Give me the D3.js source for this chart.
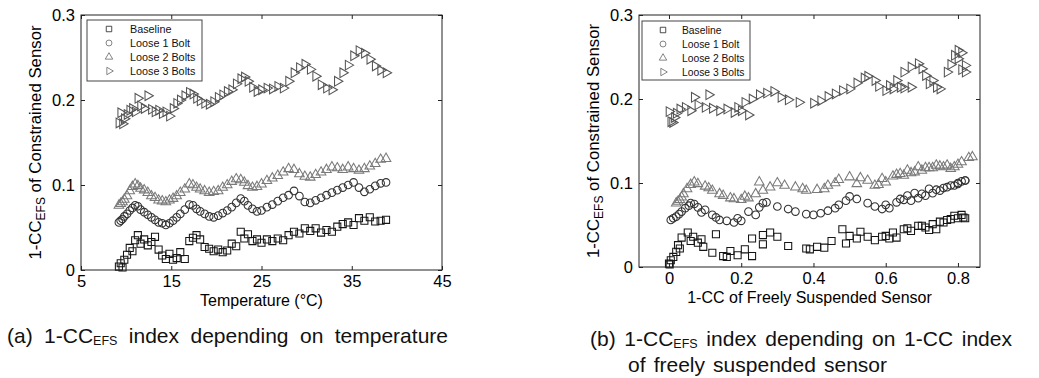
<!DOCTYPE html>
<html>
<head>
<meta charset="utf-8">
<script src="https://cdn.jsdelivr.net/npm/d3@7"></script>
<style>
  body { margin: 0; background: #fff; }
  svg { display: block; font-family: Arial, "Liberation Sans", sans-serif; }
</style>
</head>
<body>
<svg id="chart" width="1039" height="378"></svg>
<script>
// measurement temperatures (°C), shared by all four cases
const temperature = [9.2, 9.4, 9.6, 9.8, 10.1, 10.4, 10.7, 11.0, 11.3, 11.6, 12.0, 12.4, 12.8, 13.2, 13.6, 14.0,
  14.4, 14.8, 15.2, 15.6, 16.0, 16.5, 17.0, 17.4, 17.8, 18.2, 18.7, 19.2, 19.7, 20.2, 20.7, 21.2, 21.7, 22.2,
  22.7, 23.1, 23.5, 24.0, 24.5, 25.0, 25.6, 26.2, 26.8, 27.4, 28.0, 28.6, 29.2, 29.8, 30.4, 31.0, 31.6, 32.2,
  32.8, 33.4, 34.0, 34.6, 35.2, 35.8, 36.4, 37.0, 37.6, 38.2, 38.8];

// 1-CC_EFS of the constrained sensor
const baselineY = [0.004, 0.008, 0.003, 0.012, 0.018, 0.026, 0.022, 0.035, 0.041, 0.031,
  0.036, 0.029, 0.033, 0.039, 0.024, 0.017, 0.013, 0.019, 0.012, 0.014,
  0.021, 0.013, 0.034, 0.038, 0.041, 0.036, 0.027, 0.025, 0.022, 0.024,
  0.021, 0.023, 0.031, 0.028, 0.045, 0.037, 0.042, 0.034, 0.036, 0.032,
  0.036, 0.034, 0.037, 0.035, 0.041, 0.045, 0.043, 0.049, 0.046, 0.049,
  0.044, 0.047, 0.045, 0.051, 0.054, 0.056, 0.053, 0.061, 0.058, 0.062,
  0.057, 0.058, 0.059];
const loose1Y = [0.056, 0.058, 0.060, 0.063, 0.066, 0.070, 0.073, 0.076, 0.075, 0.071,
  0.068, 0.065, 0.062, 0.059, 0.056, 0.055, 0.053, 0.055, 0.058, 0.062,
  0.066, 0.071, 0.077, 0.076, 0.072, 0.069, 0.066, 0.063, 0.062, 0.064,
  0.067, 0.070, 0.074, 0.079, 0.084, 0.081, 0.076, 0.072, 0.069, 0.070,
  0.074, 0.077, 0.081, 0.085, 0.088, 0.093, 0.087, 0.080, 0.079, 0.082,
  0.085, 0.088, 0.091, 0.094, 0.097, 0.100, 0.103, 0.097, 0.092, 0.095,
  0.099, 0.102, 0.103];
const loose2Y = [0.076, 0.078, 0.080, 0.083, 0.087, 0.093, 0.098, 0.101, 0.099, 0.096,
  0.094, 0.091, 0.087, 0.085, 0.082, 0.081, 0.080, 0.082, 0.084, 0.087,
  0.091, 0.095, 0.101, 0.100, 0.097, 0.095, 0.093, 0.091, 0.092, 0.093,
  0.097, 0.100, 0.104, 0.107, 0.106, 0.103, 0.099, 0.097, 0.098, 0.101,
  0.105, 0.108, 0.111, 0.115, 0.119, 0.118, 0.113, 0.110, 0.109, 0.112,
  0.115, 0.118, 0.121, 0.120, 0.118, 0.121, 0.119, 0.117, 0.119, 0.122,
  0.125, 0.130, 0.131];
const loose3Y = [0.173, 0.185, 0.172, 0.178, 0.183, 0.188, 0.190, 0.186, 0.202, 0.193,
  0.190, 0.205, 0.189, 0.186, 0.188, 0.184, 0.186, 0.181, 0.190, 0.196,
  0.200, 0.205, 0.209, 0.207, 0.202, 0.199, 0.196, 0.195, 0.198, 0.203,
  0.206, 0.210, 0.212, 0.219, 0.225, 0.227, 0.222, 0.215, 0.210, 0.212,
  0.214, 0.213, 0.216, 0.214, 0.222, 0.232, 0.238, 0.242, 0.236, 0.228,
  0.218, 0.214, 0.212, 0.222, 0.232, 0.241, 0.252, 0.258, 0.255, 0.248,
  0.240, 0.235, 0.232];

// 1-CC of the freely suspended sensor for the same records
const baselineFree = [0.0, 0.005, 0.002, 0.012, 0.02, 0.025, 0.03, 0.035, 0.052, 0.06,
  0.067, 0.08, 0.09, 0.13, 0.095, 0.12, 0.15, 0.17, 0.16, 0.19,
  0.21, 0.23, 0.23, 0.26, 0.28, 0.3, 0.26, 0.33, 0.38, 0.41,
  0.39, 0.43, 0.45, 0.49, 0.48, 0.5, 0.53, 0.52, 0.55, 0.57,
  0.59, 0.61, 0.6, 0.63, 0.62, 0.65, 0.67, 0.69, 0.66, 0.7,
  0.72, 0.71, 0.74, 0.73, 0.75, 0.77, 0.76, 0.79, 0.8, 0.81,
  0.78, 0.82, 0.815];
const loose1Free = [0.005, 0.012, 0.02, 0.028, 0.035, 0.045, 0.055, 0.06, 0.07, 0.08,
  0.1, 0.09, 0.12, 0.13, 0.14, 0.16, 0.18, 0.2, 0.19, 0.24,
  0.22, 0.25, 0.27, 0.26, 0.3, 0.33, 0.35, 0.38, 0.4, 0.42,
  0.44, 0.46, 0.47, 0.49, 0.5, 0.52, 0.55, 0.57, 0.59, 0.61,
  0.6, 0.63, 0.64, 0.66, 0.68, 0.72, 0.7, 0.65, 0.67, 0.69,
  0.71, 0.73, 0.75, 0.76, 0.78, 0.8, 0.82, 0.79, 0.74, 0.77,
  0.8, 0.81, 0.82];
const loose2Free = [0.02, 0.025, 0.03, 0.035, 0.04, 0.05, 0.06, 0.07, 0.08, 0.1,
  0.11, 0.12, 0.14, 0.15, 0.17, 0.18, 0.2, 0.22, 0.21, 0.24,
  0.26, 0.28, 0.25, 0.3, 0.32, 0.35, 0.37, 0.38, 0.41, 0.43,
  0.44, 0.46, 0.47, 0.5, 0.53, 0.55, 0.52, 0.57, 0.58, 0.6,
  0.59, 0.62, 0.64, 0.66, 0.69, 0.71, 0.68, 0.63, 0.65, 0.67,
  0.7, 0.72, 0.74, 0.75, 0.73, 0.77, 0.76, 0.78, 0.79, 0.8,
  0.81, 0.83, 0.84];
const loose3Free = [0.005, 0.0, 0.01, 0.015, 0.02, 0.03, 0.045, 0.06, 0.07, 0.08,
  0.1, 0.11, 0.12, 0.14, 0.16, 0.18, 0.2, 0.22, 0.19, 0.21,
  0.23, 0.25, 0.29, 0.27, 0.31, 0.33, 0.36, 0.4, 0.42, 0.44,
  0.46, 0.48, 0.5, 0.52, 0.54, 0.55, 0.57, 0.58, 0.6, 0.62,
  0.64, 0.65, 0.61, 0.67, 0.63, 0.65, 0.67, 0.69, 0.7, 0.71,
  0.72, 0.74, 0.75, 0.73, 0.77, 0.78, 0.79, 0.8, 0.81, 0.8,
  0.82, 0.81, 0.82];

const seriesNames = ['Baseline', 'Loose 1 Bolt', 'Loose 2 Bolts', 'Loose 3 Bolts'];
const seriesY = [baselineY, loose1Y, loose2Y, loose3Y];
const tempTicks = [5, 15, 25, 35, 45];
const freeTicks = [0, 0.2, 0.4, 0.6, 0.8];
const yTicks = [0, 0.1, 0.2, 0.3];

const colors = ['#151515', '#333', '#7a7a7a', '#555'];
const shapes = [d3.symbolSquare, d3.symbolCircle, d3.symbolTriangle, d3.symbolTriangle];
const sizes = [50, 46, 40, 40];
const rotations = [0, 0, 0, 90];

const svg = d3.select('#chart');
svg.append('rect').attr('width', 1039).attr('height', 378).attr('fill', '#fff');

const fmt1 = d => d === 0 ? '0' : d.toFixed(1);

const panels = [
  { left: 81, right: 442, top: 15, bottom: 270, xDomain: [5, 45], xTicks: tempTicks, xFmt: d3.format('d'),
    xs: [temperature, temperature, temperature, temperature], xLabel: 'Temperature (°C)',
    legend: { x: 87, y: 20, w: 115, h: 61, symX: 22, textX: 43, fs: 10.8 } },
  { left: 639, right: 980, top: 15, bottom: 267, xDomain: [-0.083, 0.861], xTicks: freeTicks, xFmt: fmt1,
    xs: [baselineFree, loose1Free, loose2Free, loose3Free], xLabel: '1-CC of Freely Suspended Sensor',
    legend: { x: 642, y: 21, w: 108, h: 59, symX: 21, textX: 40, fs: 10.3 } }
];

panels.forEach(p => {
  const x = d3.scaleLinear().domain(p.xDomain).range([p.left, p.right]);
  const y = d3.scaleLinear().domain([0, 0.3]).range([p.bottom, p.top]);
  const g = svg.append('g');

  // markers
  seriesY.forEach((ys, s) => {
    const sym = d3.symbol().type(shapes[s]).size(sizes[s]);
    g.append('g').selectAll('path')
      .data(ys.map((v, i) => [p.xs[s][i], v]))
      .join('path')
      .attr('d', sym)
      .attr('transform', d => `translate(${x(d[0])},${y(d[1])}) rotate(${rotations[s]})`)
      .attr('fill', 'none')
      .attr('stroke', colors[s])
      .attr('stroke-width', 1.05);
  });

  // axes with inward ticks on all sides
  const bottomAxis = g.append('g').attr('transform', `translate(0,${p.bottom})`)
    .call(d3.axisBottom(x).tickValues(p.xTicks).tickFormat(p.xFmt).tickSizeInner(-4).tickSizeOuter(0).tickPadding(5.5));
  const leftAxis = g.append('g').attr('transform', `translate(${p.left},0)`)
    .call(d3.axisLeft(y).tickValues(yTicks).tickFormat(fmt1).tickSizeInner(-4).tickSizeOuter(0).tickPadding(6));
  g.append('g').attr('transform', `translate(0,${p.top})`)
    .call(d3.axisTop(x).tickValues(p.xTicks).tickFormat('').tickSizeInner(-4).tickSizeOuter(0));
  g.append('g').attr('transform', `translate(${p.right},0)`)
    .call(d3.axisRight(y).tickValues(yTicks).tickFormat('').tickSizeInner(-4).tickSizeOuter(0));
  g.selectAll('.domain').remove();
  g.selectAll('.tick line').attr('stroke', '#222');
  [bottomAxis, leftAxis].forEach(a => a.selectAll('text')
    .attr('fill', '#000').style('font-size', '16.5px').style('font-family', 'Arial, "Liberation Sans", sans-serif'));

  g.append('rect')
    .attr('x', p.left).attr('y', p.top)
    .attr('width', p.right - p.left).attr('height', p.bottom - p.top)
    .attr('fill', 'none').attr('stroke', '#222').attr('stroke-width', 1);

  // axis titles
  g.append('text')
    .attr('x', (p.left + p.right) / 2).attr('y', p.bottom + 36)
    .attr('text-anchor', 'middle').style('font-size', '16px')
    .text(p.xLabel);

  const yl = g.append('text')
    .attr('transform', 'rotate(-90)')
    .attr('x', -(p.top + p.bottom) / 2).attr('y', p.left - 40)
    .attr('text-anchor', 'middle').style('font-size', '16.8px');
  yl.append('tspan').text('1-CC');
  yl.append('tspan').attr('dy', 4).style('font-size', '12px').text('EFS');
  yl.append('tspan').attr('dy', -4).text(' of Constrained Sensor');

  // legend
  const L = p.legend;
  const lg = g.append('g').attr('transform', `translate(${L.x},${L.y})`);
  lg.append('rect').attr('width', L.w).attr('height', L.h)
    .attr('fill', '#fff').attr('stroke', '#444').attr('stroke-width', 1);
  seriesNames.forEach((name, s) => {
    const cy = 9 + s * 14;
    lg.append('path')
      .attr('d', d3.symbol().type(shapes[s]).size(sizes[s] * 0.6))
      .attr('transform', `translate(${L.symX},${cy}) rotate(${rotations[s]})`)
      .attr('fill', 'none').attr('stroke', s === 0 ? '#222' : '#666').attr('stroke-width', 0.8);
    lg.append('text').attr('x', L.textX).attr('y', cy + 4)
      .style('font-size', L.fs + 'px').attr('fill', '#111').text(name);
  });
});

// captions, spread to the widths in the figure
function caption(xPos, yPos, parts, target) {
  const t = svg.append('text').attr('x', xPos).attr('y', yPos).style('font-size', '21px').attr('fill', '#111');
  parts.forEach(pt => {
    const sp = t.append('tspan').text(pt.t);
    if (pt.sub) sp.attr('dy', 2).style('font-size', '12.5px');
    if (pt.back) sp.attr('dy', -2);
  });
  const n = (t.text().match(/ /g) || []).length;
  const w = t.node().getComputedTextLength();
  if (n) t.style('word-spacing', ((target - w) / n) + 'px');
}
caption(7, 343, [{ t: '(a) 1-CC' }, { t: 'EFS', sub: true }, { t: ' index depending on temperature', back: true }], 441);
caption(590, 346, [{ t: '(b) 1-CC' }, { t: 'EFS', sub: true }, { t: ' index depending on 1-CC index', back: true }], 422);
caption(628, 372, [{ t: 'of freely suspended sensor' }], 259);
</script>
</body>
</html>
